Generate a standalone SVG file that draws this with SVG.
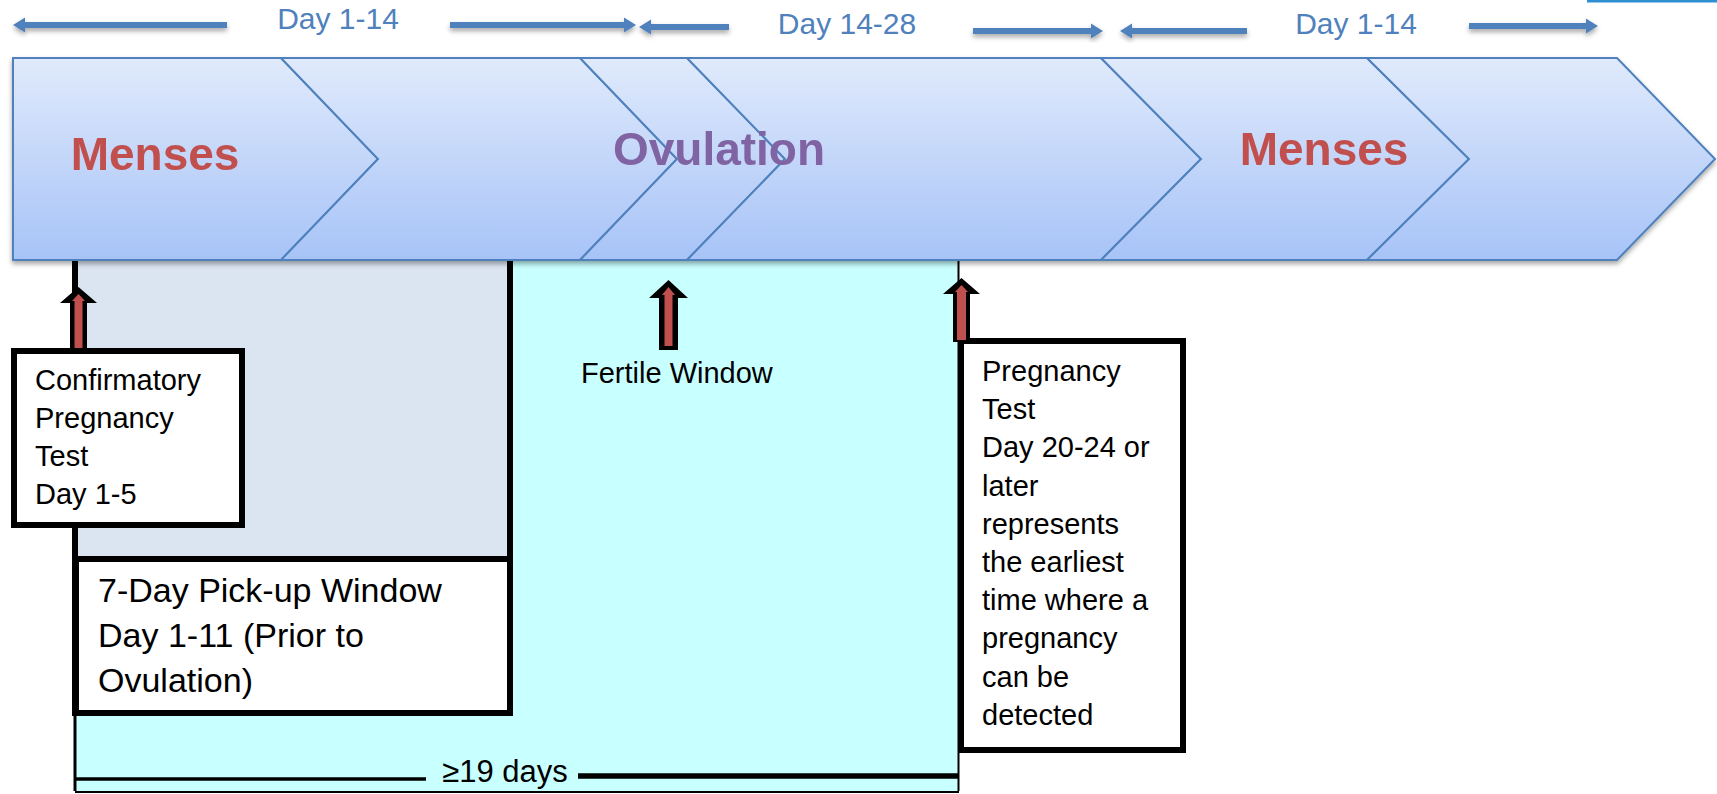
<svg xmlns="http://www.w3.org/2000/svg" width="1717" height="794" viewBox="0 0 1717 794">
<defs>
<linearGradient id="chevFill" x1="0" y1="58" x2="0" y2="260" gradientUnits="userSpaceOnUse">
<stop offset="0" stop-color="#e0eafc"/>
<stop offset="1" stop-color="#a7c3f7"/>
</linearGradient>
<filter id="shadow" x="-2%" y="-10%" width="104%" height="130%">
<feDropShadow dx="0" dy="3" stdDeviation="2.5" flood-color="#000" flood-opacity="0.35"/>
</filter>
</defs>
<style>
.chev{fill:url(#chevFill);stroke:#4f81bd;stroke-width:2;stroke-linejoin:miter}
.phase{font-family:"Liberation Sans",Arial,sans-serif;font-weight:bold;font-size:46px;text-anchor:middle}
.menses{fill:#c0504d}
.ovul{fill:#8064a2}
.day{font-family:"Liberation Sans",Arial,sans-serif;font-size:30px;fill:#4f81bd;text-anchor:middle}
.blue{fill:#4f81bd}
.box{fill:#fff;stroke:#000;stroke-width:6}
.lbl{font-family:"Liberation Sans",Arial,sans-serif;font-size:29px;fill:#000}
.big{font-size:34px}
.outer{fill:#000}
.inner{fill:#c0504d}
.frame{stroke:#000;fill:none}
</style>
<rect x="0" y="0" width="1717" height="794" fill="#fff"/>
<rect x="1587" y="0" width="130" height="2.5" fill="#2e8fd3"/>

<g id="regions">
<rect x="75" y="261" width="884" height="530" fill="#c8ffff"/>
<rect x="75" y="261" width="435" height="297" fill="#dbe5f1"/>
<line class="frame" x1="75" y1="261" x2="75" y2="716" stroke-width="6"/>
<line class="frame" x1="75" y1="716" x2="75" y2="791" stroke-width="3"/>
<line class="frame" x1="510" y1="261" x2="510" y2="716" stroke-width="6"/>
<line class="frame" x1="958.5" y1="261" x2="958.5" y2="791" stroke-width="2"/>
<line class="frame" x1="75" y1="792" x2="959" y2="792" stroke-width="2" stroke="#333"/>
</g>

<g id="phase-band" filter="url(#shadow)">
<g id="menses-1">
<polygon class="chev" points="13,58 281,58 378,159 281,260 13,260"/>
<text class="phase menses" x="155" y="170">Menses</text>
</g>
<g id="follicular">
<polygon class="chev" points="281,58 580,58 677,159 580,260 281,260 378,159"/>
</g>
<g id="pre-ovulation">
<polygon class="chev" points="580,58 687,58 785,159 687,260 580,260 677,159"/>
</g>
<g id="ovulation">
<polygon class="chev" points="687,58 1101,58 1201,159 1101,260 687,260 785,159"/>
<text class="phase ovul" x="719" y="165">Ovulation</text>
</g>
<g id="menses-2">
<polygon class="chev" points="1101,58 1367,58 1469,159 1367,260 1101,260 1201,159"/>
<text class="phase menses" x="1324" y="165">Menses</text>
</g>
<g id="next-phase">
<polygon class="chev" points="1367,58 1617,58 1715,159 1617,260 1367,260 1469,159"/>
</g>
</g>

<g id="day-ranges">
<text class="day" x="338" y="29">Day 1-14</text>
<text class="day" x="847" y="34">Day 14-28</text>
<text class="day" x="1356" y="34">Day 1-14</text>
</g>

<g id="confirmatory-test">
<rect class="box" x="14" y="351" width="228" height="174"/>
<text class="lbl" x="35" y="390">Confirmatory</text>
<text class="lbl" x="35" y="428">Pregnancy</text>
<text class="lbl" x="35" y="466">Test</text>
<text class="lbl" x="35" y="504">Day 1-5</text>
</g>

<g id="pickup-window">
<rect class="box" x="76" y="559" width="434" height="154"/>
<text class="lbl big" x="98" y="602">7-Day Pick-up Window</text>
<text class="lbl big" x="98" y="647">Day 1-11 (Prior to</text>
<text class="lbl big" x="98" y="692">Ovulation)</text>
</g>

<g id="fertile-window">
<text class="lbl" x="581" y="383">Fertile Window</text>
</g>

<g id="pregnancy-test">
<rect class="box" x="961" y="341" width="222" height="409"/>
<text class="lbl" x="982" y="381">Pregnancy</text>
<text class="lbl" x="982" y="419">Test</text>
<text class="lbl" x="982" y="457">Day 20-24 or</text>
<text class="lbl" x="982" y="496">later</text>
<text class="lbl" x="982" y="534">represents</text>
<text class="lbl" x="982" y="572">the earliest</text>
<text class="lbl" x="982" y="610">time where a</text>
<text class="lbl" x="982" y="648">pregnancy</text>
<text class="lbl" x="982" y="687">can be</text>
<text class="lbl" x="982" y="725">detected</text>
</g>

<g id="duration">
<line class="frame" x1="76" y1="779" x2="426" y2="779" stroke-width="3.5"/>
<line class="frame" x1="578" y1="776" x2="959" y2="776" stroke-width="5.5"/>
<text class="lbl" x="505" y="782" text-anchor="middle" style="font-size:31px">≥19 days</text>
</g>

<g id="connectors">
<g filter="url(#shadow)">
<path class="blue" d="M227 22 H25 V17.5 L13 25 L25 32.5 V28 H227 Z"/>
<path class="blue" d="M450 22 H624 V17.5 L636 25 L624 32.5 V28 H450 Z"/>
<path class="blue" d="M729 24 H651 V19.5 L639 27 L651 34.5 V30 H729 Z"/>
<path class="blue" d="M973 28 H1091 V23.5 L1103 31 L1091 38.5 V34 H973 Z"/>
<path class="blue" d="M1247 28 H1132 V23.5 L1120 31 L1132 38.5 V34 H1247 Z"/>
<path class="blue" d="M1469 23 H1586 V18.5 L1598 26 L1586 33.5 V29 H1469 Z"/>
</g>
<polygon class="outer" points="78.5,287 97,303 87,303 87,349 70,349 70,303 60,303"/>
<polygon class="inner" points="78.5,294 85,301 82.5,301 82.5,348 74.5,348 74.5,301 72,301"/>
<polygon class="outer" points="668.5,280 688,298 678,298 678,350 659,350 659,298 649,298"/>
<polygon class="inner" points="668.5,287 675,295 672.5,295 672.5,346 664.5,346 664.5,295 662,295"/>
<polygon class="outer" points="961.5,278 980,294 970,294 970,342 953,342 953,294 943,294"/>
<polygon class="inner" points="961.5,285 968,292 966,292 966,340 957,340 957,292 955,292"/>
</g>
</svg>
